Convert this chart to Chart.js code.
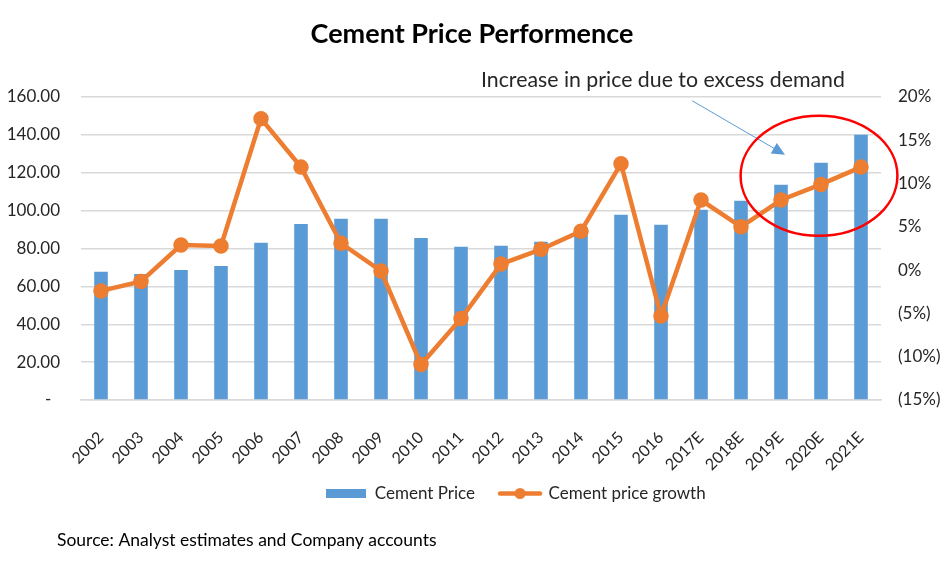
<!DOCTYPE html>
<html>
<head>
<meta charset="utf-8">
<title>Cement Price Performence</title>
<script src="https://cdn.jsdelivr.net/npm/chart.js@4.4.0/dist/chart.umd.min.js"></script>
<style>
  html, body { margin: 0; padding: 0; background: #fff; }
  #wrap { width: 944px; height: 570px; }
</style>
</head>
<body>
<div id="wrap"><canvas id="cementChart" width="944" height="570"></canvas></div>
<script>
// chart data
const years = ['2002', '2003', '2004', '2005', '2006', '2007', '2008', '2009', '2010', '2011',
    '2012', '2013', '2014', '2015', '2016', '2017E', '2018E', '2019E', '2020E', '2021E'];
const cementPrice = [67.7, 66.6, 68.7, 70.8, 83.0, 93.0, 95.7, 95.7, 85.6, 80.9,
    81.4, 83.5, 87.2, 97.8, 92.5, 100.4, 105.2, 113.6, 125.3, 140.1];
const priceGrowth = [-2.4, -1.3, 2.9, 2.8, 17.5, 11.9, 3.1, -0.1, -10.9, -5.6,
    0.7, 2.4, 4.5, 12.3, -5.3, 8.1, 5.0, 8.1, 9.9, 11.9];
const priceTicks = [0, 20, 40, 60, 80, 100, 120, 140, 160];
const growthTicks = [-15, -10, -5, 0, 5, 10, 15, 20];

const barColor = '#5B9BD5';
const lineColor = '#ED7D31';
const gridColor = '#D9D9D9';
const textColor = '#262626';

Chart.defaults.font.family = "Lato, 'Open Sans', 'Noto Sans', sans-serif";
Chart.defaults.color = textColor;

function priceLabel(v) {
    return v === 0 ? '-  ' : v.toFixed(2);
}

function growthLabel(v) {
    if (v < 0) return '(' + Math.abs(v) + '%)';
    return v + '%';
}

// little legend swatches like the Excel ones
function makeSwatch(w, h, draw) {
    const c = document.createElement('canvas');
    c.width = w;
    c.height = h;
    draw(c.getContext('2d'));
    return c;
}
const barSwatch = makeSwatch(40, 9, ctx => {
    ctx.fillStyle = barColor;
    ctx.fillRect(0, 0, 40, 9);
});
const lineSwatch = makeSwatch(46, 13, ctx => {
    ctx.strokeStyle = lineColor;
    ctx.lineWidth = 4.5;
    ctx.lineCap = 'round';
    ctx.beginPath();
    ctx.moveTo(3, 6.5);
    ctx.lineTo(43, 6.5);
    ctx.stroke();
    ctx.fillStyle = lineColor;
    ctx.beginPath();
    ctx.arc(23, 6.5, 5.5, 0, Math.PI * 2);
    ctx.fill();
});

// annotation placed in data units (category index / price value)
const note = { text: 'Increase in price due to excess demand', x: 9.5, y: 169 };
const arrow = { fromX: 14.78, fromY: 158, toX: 17.1, toY: 129.5 };
const circle = { x: 17.95, y: 118.4, rx: 1.96, ry: 31.7 };

const extrasPlugin = {
    id: 'extras',
    afterLayout(chart) {
        // Excel legend sits a bit right of centre and tucked under the labels
        const lg = chart.legend;
        lg.left += 44;
        lg.right += 44;
        lg.top -= 15;
        lg.bottom -= 15;
    },
    afterDraw(chart) {
        const ctx = chart.ctx;
        const xs = chart.scales.x;
        const ys = chart.scales.y;
        ctx.save();

        // note text
        ctx.fillStyle = textColor;
        ctx.font = "21.3px Lato, 'Open Sans', sans-serif";
        ctx.textAlign = 'left';
        ctx.textBaseline = 'middle';
        ctx.fillText(note.text, xs.getPixelForValue(note.x), ys.getPixelForValue(note.y));

        // arrow
        const x1 = xs.getPixelForValue(arrow.fromX), y1 = ys.getPixelForValue(arrow.fromY);
        const x2 = xs.getPixelForValue(arrow.toX), y2 = ys.getPixelForValue(arrow.toY);
        const ang = Math.atan2(y2 - y1, x2 - x1);
        ctx.strokeStyle = barColor;
        ctx.fillStyle = barColor;
        ctx.lineWidth = 1;
        ctx.beginPath();
        ctx.moveTo(x1, y1);
        ctx.lineTo(x2 - 10 * Math.cos(ang), y2 - 10 * Math.sin(ang));
        ctx.stroke();
        ctx.beginPath();
        ctx.moveTo(x2, y2);
        ctx.lineTo(x2 - 13 * Math.cos(ang) + 6 * Math.sin(ang), y2 - 13 * Math.sin(ang) - 6 * Math.cos(ang));
        ctx.lineTo(x2 - 13 * Math.cos(ang) - 6 * Math.sin(ang), y2 - 13 * Math.sin(ang) + 6 * Math.cos(ang));
        ctx.closePath();
        ctx.fill();

        // red ellipse
        const cx = xs.getPixelForValue(circle.x);
        const cy = ys.getPixelForValue(circle.y);
        const rx = xs.getPixelForValue(circle.x + circle.rx) - cx;
        const ry = cy - ys.getPixelForValue(circle.y + circle.ry);
        ctx.strokeStyle = '#FF0000';
        ctx.lineWidth = 2.5;
        ctx.beginPath();
        ctx.ellipse(cx, cy, rx, ry, 0, 0, Math.PI * 2);
        ctx.stroke();

        // source line
        ctx.fillStyle = '#000';
        ctx.font = "17.5px Lato, 'Open Sans', sans-serif";
        ctx.fillText('Source: Analyst estimates and Company accounts', 57, 540);
        ctx.restore();
    }
};

const ctx = document.getElementById('cementChart').getContext('2d');
const cementChart = new Chart(ctx, {
    type: 'bar',
    data: {
        labels: years,
        datasets: [{
            label: 'Cement Price',
            data: cementPrice,
            backgroundColor: barColor,
            yAxisID: 'y',
            categoryPercentage: 1,
            barPercentage: 0.34,
            order: 2
        }, {
            type: 'line',
            label: 'Cement price growth',
            data: priceGrowth,
            borderColor: lineColor,
            backgroundColor: lineColor,
            borderWidth: 4.5,
            pointRadius: 5.5,
            pointBackgroundColor: lineColor,
            pointBorderColor: lineColor,
            tension: 0,
            yAxisID: 'y1',
            order: 1
        }]
    },
    options: {
        responsive: false,
        animation: false,
        devicePixelRatio: 1,
        layout: { padding: { left: 0, right: 0, top: 0, bottom: 43 } },
        plugins: {
            title: {
                display: true,
                text: 'Cement Price Performence',
                color: '#000',
                font: { size: 27, weight: 'bold' },
                padding: { top: 18, bottom: 46.6 }
            },
            legend: {
                position: 'bottom',
                labels: {
                    usePointStyle: true,
                    pointStyleWidth: 40,
                    padding: 25,
                    color: textColor,
                    font: { size: 17 },
                    sort: (a, b) => a.datasetIndex - b.datasetIndex,
                    generateLabels(chart) {
                        const items = Chart.defaults.plugins.legend.labels.generateLabels(chart);
                        items.forEach(it => {
                            it.pointStyle = it.datasetIndex === 0 ? barSwatch : lineSwatch;
                        });
                        return items;
                    }
                }
            },
            tooltip: { enabled: false }
        },
        scales: {
            x: {
                grid: { display: false },
                border: { display: true, color: gridColor, width: 1.5 },
                ticks: {
                    maxRotation: 45,
                    minRotation: 45,
                    autoSkip: false,
                    padding: 20,
                    labelOffset: 0,
                    font: { size: 16 },
                    color: textColor
                },
                afterFit(scale) { scale.height = 75; }
            },
            y: {
                position: 'left',
                min: priceTicks[0],
                max: priceTicks[priceTicks.length - 1],
                grid: { color: gridColor, lineWidth: 1.5, drawTicks: false },
                border: { display: false },
                ticks: {
                    stepSize: 20,
                    padding: 21,
                    font: { size: 17 },
                    color: textColor,
                    callback: v => priceLabel(v)
                },
                afterFit(scale) { scale.width = 81; }
            },
            y1: {
                position: 'right',
                min: growthTicks[0],
                max: growthTicks[growthTicks.length - 1],
                grid: { display: false, drawTicks: false },
                border: { display: false },
                ticks: {
                    stepSize: 5,
                    padding: 17,
                    font: { size: 17 },
                    color: textColor,
                    callback: v => growthLabel(v)
                },
                afterFit(scale) { scale.width = 63; }
            }
        }
    },
    plugins: [extrasPlugin]
});
</script>
</body>
</html>
